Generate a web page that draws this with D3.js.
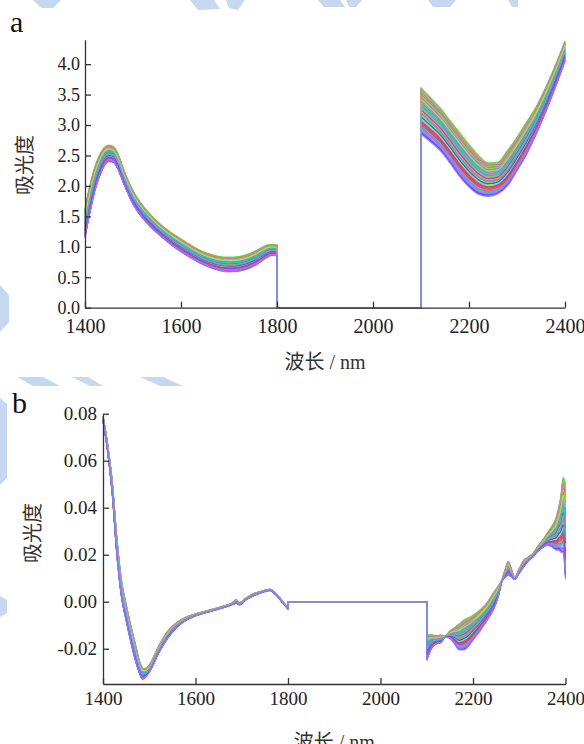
<!DOCTYPE html>
<html>
<head>
<meta charset="utf-8">
<script src="https://cdn.jsdelivr.net/npm/d3@7/dist/d3.min.js"></script>
<style>
  body { margin: 0; background: #fff; }
  .axis path, .axis line { stroke: #333; stroke-width: 1.3; }
</style>
</head>
<body>
<div id="chart"></div>
<script>
// ---------- data ----------
const xTicks = [1400, 1600, 1800, 2000, 2200, 2400];
const yTicksA = [0, 0.5, 1.0, 1.5, 2.0, 2.5, 3.0, 3.5, 4.0];
const yTicksB = [-0.02, 0, 0.02, 0.04, 0.06, 0.08];

// panel a, 1400-1800 nm band (lower / upper edge of the bundle)
const wlA1 = [1400, 1410, 1420, 1430, 1440, 1450, 1460, 1470, 1480, 1500, 1520, 1540, 1560, 1580, 1600, 1620, 1640, 1660, 1680, 1700, 1720, 1740, 1760, 1780, 1790, 1800];
const lowA1 = [1.15, 1.55, 1.90, 2.15, 2.33, 2.40, 2.38, 2.25, 2.05, 1.70, 1.47, 1.30, 1.16, 1.03, 0.92, 0.82, 0.73, 0.66, 0.61, 0.59, 0.60, 0.64, 0.72, 0.83, 0.86, 0.85];
const highA1 = [1.62, 2.00, 2.30, 2.50, 2.63, 2.67, 2.64, 2.50, 2.28, 1.92, 1.68, 1.50, 1.35, 1.23, 1.13, 1.03, 0.94, 0.88, 0.84, 0.83, 0.84, 0.88, 0.95, 1.03, 1.04, 1.03];
// panel a, 2100-2400 nm band
const wlA2 = [2100, 2120, 2140, 2160, 2180, 2200, 2220, 2240, 2260, 2280, 2300, 2320, 2340, 2360, 2380, 2400];
const lowA2 = [2.85, 2.72, 2.58, 2.38, 2.16, 1.98, 1.86, 1.83, 1.87, 2.00, 2.25, 2.52, 2.85, 3.22, 3.62, 4.05];
const highA2 = [3.61, 3.45, 3.28, 3.08, 2.88, 2.68, 2.50, 2.38, 2.39, 2.58, 2.80, 3.05, 3.30, 3.62, 3.98, 4.38];

// panel b, 1400-1800 nm (two edges of the bundle)
const wlB1 = [1400, 1410, 1420, 1430, 1440, 1450, 1460, 1470, 1480, 1485, 1490, 1500, 1520, 1540, 1560, 1580, 1600, 1630, 1660, 1680, 1688, 1695, 1710, 1725, 1740, 1760, 1775, 1790, 1800];
const edgeB1a = [0.077, 0.064, 0.046, 0.020, 0.002, -0.008, -0.017, -0.025, -0.031, -0.033, -0.0325, -0.030, -0.022, -0.0155, -0.0108, -0.0078, -0.0060, -0.0042, -0.0025, -0.0012, -0.0006, -0.0013, 0.0010, 0.0025, 0.0037, 0.0048, 0.0028, -0.0008, -0.0030];
const edgeB1b = [0.079, 0.067, 0.051, 0.027, 0.009, -0.001, -0.010, -0.018, -0.026, -0.028, -0.0285, -0.027, -0.019, -0.0125, -0.0088, -0.0065, -0.0052, -0.0036, -0.0019, -0.0004, 0.0009, -0.0004, 0.0016, 0.0034, 0.0043, 0.0053, 0.0033, -0.0003, -0.0026];
// panel b, 2100-2400 nm
const wlB2 = [2100, 2110, 2120, 2130, 2140, 2150, 2160, 2170, 2180, 2190, 2200, 2215, 2230, 2245, 2255, 2262, 2270, 2276, 2282, 2290, 2300, 2310, 2320, 2330, 2340, 2350, 2360, 2370, 2380, 2385, 2390, 2395, 2400];
const edgeB2a = [-0.025, -0.020, -0.018, -0.0175, -0.0150, -0.0155, -0.0178, -0.0205, -0.0205, -0.019, -0.0163, -0.0125, -0.008, -0.003, 0.0025, 0.0085, 0.0105, 0.0112, 0.0108, 0.0095, 0.0122, 0.0150, 0.0175, 0.0192, 0.0215, 0.0230, 0.0240, 0.0234, 0.0220, 0.0220, 0.0210, 0.0207, 0.0095];
const edgeB2b = [-0.014, -0.014, -0.0145, -0.0142, -0.0145, -0.0125, -0.011, -0.0095, -0.0078, -0.0068, -0.0057, -0.0035, -0.0005, 0.004, 0.0068, 0.0088, 0.014, 0.0172, 0.0145, 0.0105, 0.0140, 0.0177, 0.0190, 0.0206, 0.0235, 0.0260, 0.0290, 0.032, 0.036, 0.040, 0.045, 0.053, 0.050];

// where each sample spectrum sits inside the bundle (0 = edge a, 1 = edge b)
const samplePos = [
  0.52, 0.27, 0.81, 0.13, 0.66, 0.39, 0.94, 0.06, 0.58, 0.33, 0.75, 0.19,
  0.47, 0.88, 0.02, 0.62, 0.24, 0.71, 0.43, 0.97, 0.10, 0.55, 0.30, 0.84,
  0.16, 0.68, 0.36, 0.91, 0.08, 0.50, 0.22, 0.78, 0.41, 0.64, 0.14, 0.86,
  0.28, 0.59, 0.04, 0.73, 0.45, 0.96, 0.18, 0.53, 0.34, 0.80, 0.11, 0.69,
  0.25, 1.00, 0.38, 0.61, 0.07, 0.83, 0.48, 0.21, 0.76, 0.92, 0.44, 0.00
];
const lineColors = ["#ff3030", "#40e040", "#3050ff", "#00d0d0", "#ff40ff", "#e0c000",
                    "#ff9020", "#9040ff", "#80ff60", "#ff60a0", "#30b0ff", "#8080ff"];

const serif = "'Liberation Serif', 'Times New Roman', Times, 'DejaVu Serif', serif";
const cjk = "'Liberation Serif', 'Times New Roman', 'Noto Sans CJK SC', serif";

// ---------- layout ----------
const svg = d3.select("#chart").append("svg").attr("width", 584).attr("height", 744);

// faint watermark left in the scanned page
const watermark = [
  [[33, 0], [61, 0], [53, 8], [41, 8]],
  [[190, 0], [214, 0], [220, 9], [198, 10]],
  [[226, 0], [245, 0], [238, 10], [229, 8]],
  [[318, 0], [340, 0], [345, 7], [324, 7]],
  [[346, 0], [362, 0], [356, 7], [349, 7]],
  [[428, 0], [456, 0], [450, 7], [433, 7]],
  [[508, 0], [518, 0], [518, 7], [512, 7]],
  [[0, 285], [9, 295], [9, 322], [0, 332]],
  [[17, 377], [43, 377], [60, 386], [33, 386]],
  [[72, 377], [88, 377], [103, 386], [90, 386]],
  [[140, 377], [163, 377], [183, 386], [160, 386]],
  [[0, 398], [7, 404], [7, 478], [0, 485]],
  [[0, 596], [7, 600], [7, 613], [0, 617]]
];
svg.selectAll("polygon.wm").data(watermark).enter().append("polygon")
  .attr("class", "wm")
  .attr("points", (d) => d.map((p) => p.join(",")).join(" "))
  .attr("fill", "#c6d7f1");

function blend(a, b, t) {
  return a.map((v, i) => v + t * (b[i] - v));
}

// one spectrum = smooth band 1, zero gap, smooth band 2
function spectrumPath(x, y, wl1, v1, wl2, v2) {
  const line = d3.line().x((d) => x(d[0])).y((d) => y(d[1])).curve(d3.curveMonotoneX);
  const p1 = line(wl1.map((w, i) => [w, v1[i]]));
  const p2 = line(wl2.map((w, i) => [w, v2[i]]));
  const gap = "L" + x(1800) + "," + y(0) + "L" + x(2100) + "," + y(0);
  return p1 + gap + p2.replace(/^M/, "L");
}

function drawPanel(opt) {
  const g = svg.append("g");
  const x = d3.scaleLinear().domain([1400, 2400]).range(opt.xRange);
  const y = d3.scaleLinear().domain(opt.yDomain).range(opt.yRange);

  g.selectAll("path.spec")
    .data(samplePos)
    .enter()
    .append("path")
    .attr("class", "spec")
    .attr("d", (t) => spectrumPath(x, y,
        opt.wl1, blend(opt.lo1, opt.hi1, t),
        opt.wl2, blend(opt.lo2, opt.hi2, t)))
    .attr("fill", "none")
    .attr("stroke", (t, i) => lineColors[i % lineColors.length])
    .attr("stroke-width", 1.2)
    .attr("stroke-opacity", 0.85);

  const xAxis = g.append("g")
    .attr("class", "axis")
    .attr("transform", `translate(0,${opt.yRange[0]})`)
    .call(d3.axisBottom(x).tickValues(xTicks).tickFormat(d3.format("d"))
      .tickSizeInner(-6).tickSizeOuter(0).tickPadding(opt.xPad));
  xAxis.attr("font-family", serif);
  xAxis.selectAll("text").style("font-family", serif).style("font-size", opt.xFont + "px").attr("fill", "#222");

  const yAxis = g.append("g")
    .attr("class", "axis")
    .attr("transform", `translate(${opt.xRange[0]},0)`)
    .call(d3.axisLeft(y).tickValues(opt.yTicks)
      .tickFormat((d) => d3.format(opt.yFmt)(d).replace("\u2212", "-"))
      .tickSizeInner(-6).tickSizeOuter(0).tickPadding(opt.yPad));
  yAxis.attr("font-family", serif);
  yAxis.selectAll("text").style("font-family", serif).style("font-size", opt.yFont + "px").attr("fill", "#222");

  g.append("text").attr("x", opt.tag[0]).attr("y", opt.tag[1])
    .style("font-family", serif).style("font-size", "30px").attr("fill", "#111").text(opt.tagText);

  g.append("text")
    .attr("transform", `translate(${opt.yLab[0]},${opt.yLab[1]}) rotate(-90)`)
    .attr("text-anchor", "middle").attr("dominant-baseline", "central")
    .style("font-family", cjk).style("font-size", "20px").attr("fill", "#333").text("吸光度");

  g.append("text").attr("x", (opt.xRange[0] + opt.xRange[1]) / 2).attr("y", opt.xLabY)
    .attr("text-anchor", "middle")
    .style("font-family", cjk).style("font-size", "20px").attr("fill", "#333").text("波长 / nm");
}

drawPanel({
  xRange: [85, 565], yDomain: [0, 4.4], yRange: [307.7, 39.8],
  wl1: wlA1, lo1: lowA1, hi1: highA1, wl2: wlA2, lo2: lowA2, hi2: highA2,
  yTicks: yTicksA, yFmt: ".1f", xPad: 11, yPad: 5, xFont: 20, yFont: 18,
  tag: [10, 32], tagText: "a", yLab: [25, 165], xLabY: 369
});

drawPanel({
  xRange: [103, 565.5], yDomain: [-0.035, 0.08], yRange: [684, 413.7],
  wl1: wlB1, lo1: edgeB1a, hi1: edgeB1b, wl2: wlB2, lo2: edgeB2a, hi2: edgeB2b,
  yTicks: yTicksB, yFmt: ".2f", xPad: 8, yPad: 6, xFont: 19, yFont: 19,
  tag: [12, 413], tagText: "b", yLab: [33, 533], xLabY: 749
});
</script>
</body>
</html>
